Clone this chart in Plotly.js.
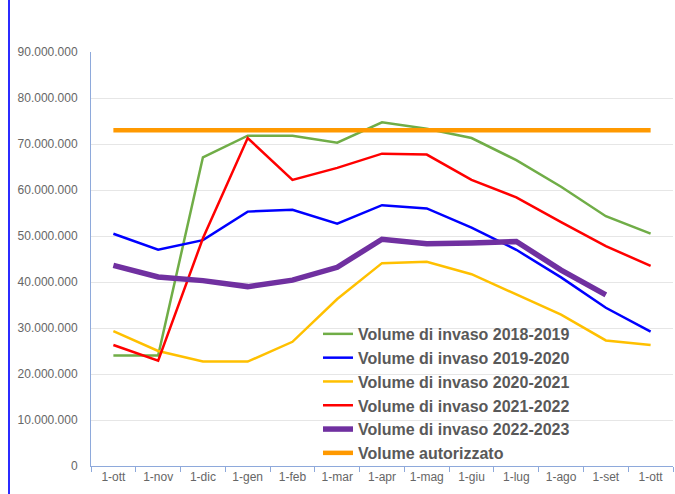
<!DOCTYPE html>
<html><head><meta charset="utf-8">
<script src="https://cdn.plot.ly/plotly-3.0.1.min.js"></script>
<style>html,body{margin:0;padding:0;background:#fff;}#wrap{position:relative;width:675px;height:494px;}#chart{width:675px;height:494px;}#bar{position:absolute;left:8px;top:0;width:2px;height:494px;background:#2b2bff;}</style>
</head><body><div id="wrap"><div id="chart"></div><div id="bar"></div></div>
<script>
const categories = ['1-ott','1-nov','1-dic','1-gen','1-feb','1-mar','1-apr','1-mag','1-giu','1-lug','1-ago','1-set','1-ott '];
const tickLabels = ['1-ott','1-nov','1-dic','1-gen','1-feb','1-mar','1-apr','1-mag','1-giu','1-lug','1-ago','1-set','1-ott'];
const v2018 = [24.0,24.0,67.1,71.8,71.8,70.3,74.7,73.3,71.3,66.5,60.7,54.3,50.5];
const v2019 = [50.5,47.0,49.1,55.3,55.7,52.7,56.7,56.0,51.8,47.0,41.0,34.4,29.2];
const v2020 = [29.3,25.0,22.7,22.7,27.0,36.3,44.1,44.4,41.7,37.3,32.9,27.3,26.3];
const v2021 = [26.3,22.9,49.5,71.3,62.2,64.8,67.9,67.7,62.2,58.4,53.0,47.8,43.5];
const v2022 = [43.6,41.1,40.3,39.0,40.4,43.2,49.3,48.3,48.5,48.8,42.6,37.2,null];
const vAut  = [73,73,73,73,73,73,73,73,73,73,73,73,73];
const names = ['Volume di invaso 2018-2019','Volume di invaso 2019-2020','Volume di invaso 2020-2021','Volume di invaso 2021-2022','Volume di invaso 2022-2023','Volume autorizzato'];
const M = v => v.map(x => x === null ? null : x * 1e6);
const series = [v2018, v2019, v2020, v2021, v2022, vAut];
const colors = ['#70AD47','#0000FF','#FFC000','#FF0000','#7030A0','#FF9900'];
const widths = [2.5,2.5,2.5,2.5,5.5,4.5];
const data = series.map((s,i) => ({
  x: categories, y: M(s), type: 'scatter', mode: 'lines', name: names[i],
  line: {color: colors[i], width: widths[i]}, connectgaps: false, hoverinfo: 'skip'
}));
const layout = {
  width: 675, height: 494,
  margin: {l: 91, r: 2, t: 52, b: 28},
  paper_bgcolor: '#fff', plot_bgcolor: '#fff',
  separators: ',.',
  font: {family: 'Liberation Sans, Arial, sans-serif', color: '#666666', size: 12},
  showlegend: true,
  legend: {x: 0.39, y: 0.36, xanchor: 'left', yanchor: 'top', bgcolor: 'rgba(0,0,0,0)',
    font: {size: 16, color: '#595959', family: 'Liberation Sans, Arial, sans-serif', weight: 'bold'},
    tracegroupgap: 0, itemwidth: 30},
  xaxis: {type: 'category', range: [-0.5, 12.5], tickmode: 'array', tickvals: categories, ticktext: tickLabels,
    showline: true, linecolor: '#8EA9DB', linewidth: 1, ticks: 'outside', tickson: 'boundaries', ticklen: 5,
    tickcolor: '#8EA9DB', showgrid: false, zeroline: false, fixedrange: true},
  yaxis: {range: [0, 90e6], dtick: 10e6, tickformat: ',d', showline: true, linecolor: '#8EA9DB', linewidth: 1,
    gridcolor: '#E6E6E6', gridwidth: 1, zeroline: false, ticks: '', ticklabelstandoff: 10, fixedrange: true}
};
Plotly.newPlot('chart', data, layout, {displayModeBar: false, staticPlot: true});
</script></body></html>
